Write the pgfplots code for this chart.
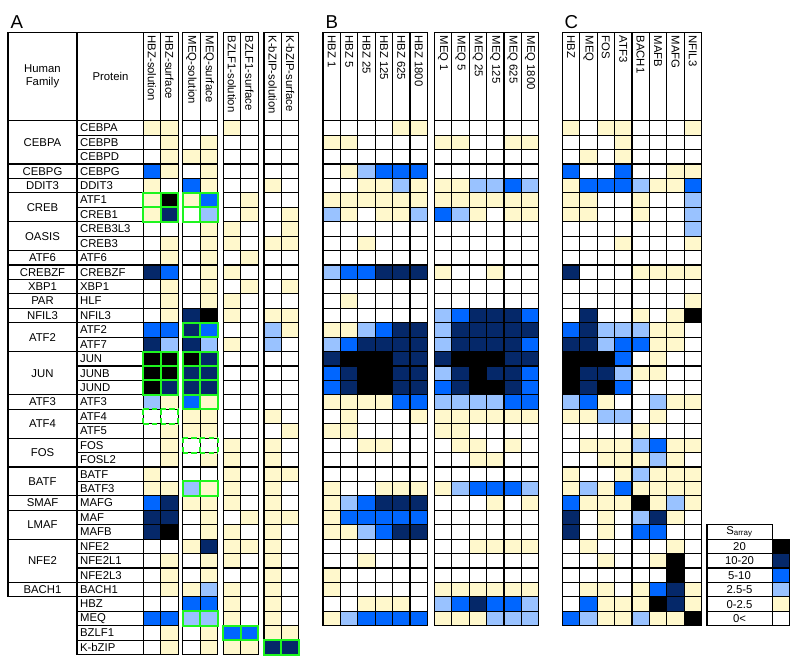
\documentclass[border=0pt]{standalone}
\usepackage{pgfplots}
\pgfplotsset{compat=1.18}
\usepackage{pgfplotstable}
\usepackage{fontspec}
\setmainfont{Liberation Sans}

\definecolor{c0}{RGB}{255,255,255}
\definecolor{c1}{RGB}{255,248,204}
\definecolor{c2}{RGB}{153,194,255}
\definecolor{c3}{RGB}{0,102,255}
\definecolor{c4}{RGB}{5,40,105}
\definecolor{c5}{RGB}{0,0,0}
\definecolor{grn}{RGB}{30,245,30}

% one cell = 17.4 x 14.43 px, 1 px = 0.75pt
\pgfdeclareplotmark{cell}{%
  \pgfpathrectangle{\pgfpoint{-6.525pt}{-5.41125pt}}{\pgfpoint{13.05pt}{10.8225pt}}%
  \pgfusepathqfillstroke}

\pgfplotsset{cellplot/.style={scatter, only marks, mark=cell,
  point meta=explicit symbolic,
  scatter/classes={
    0={draw=black,fill=c0,line width=0.9pt},
    1={draw=black,fill=c1,line width=0.9pt},
    2={draw=black,fill=c2,line width=0.9pt},
    3={draw=black,fill=c3,line width=0.9pt},
    4={draw=black,fill=c4,line width=0.9pt},
    5={draw=black,fill=c5,line width=0.9pt}}}}

% panel A: bZIP proteins x viral bZIP (solution / surface)
\pgfplotstableread{
HS HSf MS MSf BS BSf KS KSf
1 1 0 0 1 0 0 0
0 1 0 1 0 0 0 0
0 1 1 1 0 0 0 0
3 1 0 1 0 0 0 0
1 0 3 1 0 0 1 0
1 5 1 3 0 1 0 0
1 4 0 2 0 1 0 1
0 0 0 1 1 0 0 1
0 1 0 1 1 0 1 1
0 1 0 1 0 1 0 0
4 3 0 1 1 0 0 0
0 1 0 1 0 1 0 1
0 1 0 1 1 0 0 0
0 1 4 5 1 0 1 1
3 3 4 3 0 0 2 1
4 2 4 2 1 0 2 0
5 5 5 4 0 0 0 0
5 5 4 4 0 0 0 0
5 4 4 4 0 0 0 0
2 1 3 1 0 0 0 0
0 0 1 1 0 0 1 0
0 1 1 1 0 0 0 1
0 1 0 0 1 0 1 0
0 1 0 1 1 0 1 0
1 0 0 0 1 0 1 1
1 1 2 1 1 0 1 0
3 4 1 1 1 0 1 0
4 4 0 1 0 1 1 1
4 5 0 1 1 0 1 0
0 0 1 4 1 1 1 0
0 1 0 1 1 0 1 0
0 1 0 1 0 0 1 0
0 1 1 2 1 0 1 0
0 0 3 3 1 0 1 0
3 3 2 2 1 0 1 0
0 1 0 1 3 3 1 1
0 1 0 1 1 1 4 4
}\tabA

% panel B: HBZ and MEQ concentration series
\pgfplotstableread{
H1 H5 H25 H125 H625 H1800 M1 M5 M25 M125 M625 M1800
0 0 0 0 1 1 0 0 0 0 0 0
1 1 0 0 0 0 1 1 0 0 1 1
0 0 0 0 0 0 0 0 0 0 0 0
0 1 2 3 3 3 0 0 0 0 0 0
0 0 1 1 2 1 1 1 2 2 3 2
1 1 1 1 1 1 1 1 1 1 1 1
2 1 0 1 1 2 3 2 1 0 1 1
0 0 0 0 0 0 0 0 0 0 0 0
0 0 1 0 0 0 0 0 0 0 0 0
0 0 0 0 0 0 0 0 0 0 0 0
2 3 3 4 4 4 1 0 0 1 0 0
0 0 0 0 0 0 0 0 0 0 0 0
0 1 0 0 0 0 0 0 0 0 0 0
0 0 0 0 0 0 2 3 4 4 4 3
1 1 2 3 4 4 2 4 4 4 4 4
2 3 4 4 4 4 2 4 4 4 4 3
4 5 5 5 4 4 4 5 5 5 4 4
3 4 5 5 4 4 2 4 5 4 4 3
3 4 5 5 4 4 3 4 5 5 4 3
1 1 1 1 3 3 2 2 2 2 3 3
0 1 0 0 0 1 1 1 1 1 1 1
1 1 0 0 0 0 1 1 0 0 0 0
0 0 1 1 0 0 0 1 1 0 1 0
0 0 0 0 0 0 0 0 1 1 0 0
0 0 0 0 0 0 0 0 0 0 0 0
1 0 0 1 1 1 1 2 3 3 3 2
1 2 3 4 4 4 0 0 0 1 0 1
1 3 3 3 3 3 0 0 0 0 0 0
1 1 2 3 4 4 0 0 0 0 0 0
0 0 0 0 0 0 0 0 1 1 1 1
0 0 1 0 0 0 0 0 0 0 0 0
1 0 0 0 0 0 0 0 0 0 0 0
1 0 0 0 0 0 1 1 1 1 1 1
0 0 1 1 1 0 2 3 4 3 3 2
1 2 3 3 3 3 1 1 1 2 2 2
}\tabB

% panel C: human bZIP probes
\pgfplotstableread{
HBZ MEQ FOS ATF3 BACH1 MAFB MAFG NFIL3
1 0 1 1 0 0 0 1
0 0 0 1 0 0 0 0
0 1 0 1 0 0 0 0
3 0 0 3 0 0 1 1
1 3 3 3 2 1 1 3
1 1 0 0 1 0 0 2
1 1 0 0 1 0 0 2
0 0 0 0 0 0 0 2
0 0 0 1 0 0 0 1
0 0 0 0 0 0 0 0
4 0 0 0 1 1 1 1
0 0 0 0 0 0 0 0
0 0 0 0 0 0 0 1
0 4 0 0 1 0 1 5
3 4 2 2 2 1 1 0
4 4 2 3 3 1 1 0
5 5 5 3 0 1 0 0
5 4 4 2 1 1 0 0
5 4 5 3 0 0 0 0
2 3 1 0 0 2 1 1
1 1 2 2 0 1 0 0
0 0 0 0 1 0 0 0
0 1 1 1 2 3 1 1
0 0 1 1 1 2 1 0
1 0 0 1 2 1 1 1
1 2 1 3 1 1 1 1
3 1 1 1 5 1 2 1
4 0 1 0 2 4 1 0
4 0 1 0 3 3 0 0
0 1 0 0 0 0 1 0
0 0 1 0 0 1 5 0
0 0 0 0 0 0 5 0
0 1 1 0 1 3 4 1
0 3 1 1 1 5 4 1
3 2 1 1 2 1 1 5
}\tabC

% key: S_array classes
\pgfplotstableread{
r v
29 5
30 4
31 3
32 2
33 1
34 0
}\tabKey

\newcommand\col[3]{\addplot[cellplot] table[x expr=#1, y expr=127.915+14.43*\coordindex, meta=#2]{#3};}

\begin{document}
\begin{tikzpicture}
\begin{axis}[at={(0,0)}, anchor=south west,
  x=0.75pt, y=0.75pt, y dir=reverse, scale only axis,
  xmin=0, xmax=800, ymin=0, ymax=667, disabledatascaling,
  hide axis, clip=false]
% A
\col{152.0}{HS}{\tabA}
\col{169.4}{HSf}{\tabA}
\col{191.5}{MS}{\tabA}
\col{208.9}{MSf}{\tabA}
\col{232.0}{BS}{\tabA}
\col{249.4}{BSf}{\tabA}
\col{272.7}{KS}{\tabA}
\col{290.1}{KSf}{\tabA}
% B
\col{331.7}{H1}{\tabB}
\col{349.1}{H5}{\tabB}
\col{366.5}{H25}{\tabB}
\col{383.9}{H125}{\tabB}
\col{401.3}{H625}{\tabB}
\col{418.7}{H1800}{\tabB}
\col{443.0}{M1}{\tabB}
\col{460.4}{M5}{\tabB}
\col{477.8}{M25}{\tabB}
\col{495.2}{M125}{\tabB}
\col{512.6}{M625}{\tabB}
\col{530.0}{M1800}{\tabB}
% C
\col{571.0}{HBZ}{\tabC}
\col{588.4}{MEQ}{\tabC}
\col{605.8}{FOS}{\tabC}
\col{623.2}{ATF3}{\tabC}
\col{640.6}{BACH1}{\tabC}
\col{658.0}{MAFB}{\tabC}
\col{675.4}{MAFG}{\tabC}
\col{692.8}{NFIL3}{\tabC}
% key swatches
\addplot[cellplot] table[x expr=781, y expr=127.915+14.43*\thisrow{r}, meta=v]{\tabKey};
\end{axis}

\begin{scope}[x=0.75pt, y=-0.75pt, yshift=500.25pt, line width=0.9pt,
  every node/.style={inner sep=0pt, font=\fontsize{8.5}{10}\selectfont}]
\path (0,0) rectangle (800,667);
% panel letters
\node[anchor=base west, font=\fontsize{14}{16}\selectfont] at (10,28.5) {A};
\node[anchor=base west, font=\fontsize{14}{16}\selectfont] at (325,28.5) {B};
\node[anchor=base west, font=\fontsize{14}{16}\selectfont] at (564,28.5) {C};

% A: family / protein columns
\draw (8,32.3) rectangle (143.3,120.7);
\draw (77,32.3) -- (77,120.7);
\node[align=center] at (42.5,76.5) {Human\\Family};
\node at (110.5,76.5) {Protein};
\draw (77,120.7) -- (77,654.6);
\draw (8,120.7) -- (8,596.9);
\foreach \k in {0,...,37} \draw (77,{120.7+14.43*\k}) -- (143.3,{120.7+14.43*\k});
\foreach \k in {0,3,4,5,7,9,10,11,12,13,14,16,19,20,22,24,26,27,29,32,33}
  \draw (8,{120.7+14.43*\k}) -- (77,{120.7+14.43*\k});
\foreach \n [count=\k from 0] in {CEBPA,CEBPB,CEBPD,CEBPG,DDIT3,ATF1,CREB1,CREB3L3,CREB3,ATF6,CREBZF,XBP1,HLF,NFIL3,ATF2,ATF7,JUN,JUNB,JUND,ATF3,ATF4,ATF5,FOS,FOSL2,BATF,BATF3,MAFG,MAF,MAFB,NFE2,NFE2L1,NFE2L3,BACH1,HBZ,MEQ,BZLF1,K-bZIP}
  \node[anchor=west] at (79.5,{127.915+14.43*\k}) {\n};
\foreach \n/\r in {CEBPA/1,CEBPG/3,DDIT3/4,CREB/5.5,OASIS/7.5,ATF6/9,CREBZF/10,XBP1/11,PAR/12,NFIL3/13,ATF2/14.5,JUN/17,ATF3/19,ATF4/20.5,FOS/22.5,BATF/24.5,SMAF/26,LMAF/27.5,NFE2/30,BACH1/32}
  \node at (42.5,{127.915+14.43*\r}) {\n};

% A: column header boxes
\foreach \L in {143.3,182.8,223.3,264}{
  \draw (\L,32.3) rectangle ({\L+34.8},120.7);
  \draw ({\L+17.4},32.3) -- ({\L+17.4},120.7);}
\foreach \n [count=\i from 0] in {HBZ-solution,HBZ-surface}
  \node[rotate=-90, anchor=west] at ({152.0+17.4*\i},35) {\n};
\foreach \n [count=\i from 0] in {MEQ-solution,MEQ-surface}
  \node[rotate=-90, anchor=west] at ({191.5+17.4*\i},35) {\n};
\foreach \n [count=\i from 0] in {BZLF1-solution,BZLF1-surface}
  \node[rotate=-90, anchor=west] at ({232.0+17.4*\i},35) {\n};
\foreach \n [count=\i from 0] in {K-bZIP-solution,K-bZIP-surface}
  \node[rotate=-90, anchor=west] at ({272.7+17.4*\i},35) {\n};

% B: header boxes
\foreach \L in {323,434.3}{
  \draw (\L,32.3) rectangle ({\L+104.4},120.7);
  \foreach \i in {1,...,5} \draw ({\L+17.4*\i},32.3) -- ({\L+17.4*\i},120.7);}
\foreach \n [count=\i from 0] in {HBZ 1,HBZ 5,HBZ 25,HBZ 125,HBZ 625,HBZ 1800}
  \node[rotate=-90, anchor=west] at ({331.7+17.4*\i},35) {\n};
\foreach \n [count=\i from 0] in {MEQ 1,MEQ 5,MEQ 25,MEQ 125,MEQ 625,MEQ 1800}
  \node[rotate=-90, anchor=west] at ({443.0+17.4*\i},35) {\n};

% C: header box
\draw (562.3,32.3) rectangle (701.5,120.7);
\foreach \i in {1,...,7} \draw ({562.3+17.4*\i},32.3) -- ({562.3+17.4*\i},120.7);
\foreach \n [count=\i from 0] in {HBZ,MEQ,FOS,ATF3,BACH1,MAFB,MAFG,NFIL3}
  \node[rotate=-90, anchor=west] at ({571.0+17.4*\i},35) {\n};

% key
\draw (707,524.8) rectangle (772.3,625.8);
\foreach \k in {29,...,34} \draw (707,{120.7+14.43*\k}) -- (772.3,{120.7+14.43*\k});
\node at (739.5,{127.915+14.43*28}) {S\textsubscript{array}};
\foreach \n [count=\i from 29] in {20,10-20,5-10,2.5-5,0-2.5,0<}
  \node at (739.5,{127.915+14.43*\i}) {\n};

% green outlines
\tikzset{gbox/.style={draw=grn, line width=1.5pt}}
\foreach \k in {5,6,16,17,18} \foreach \c in {0,1}
  \draw[gbox] ({143.3+17.4*\c},{120.7+14.43*\k}) rectangle +(17.4,14.43);
\foreach \k in {5,6,14,16,17,18,19,25,34} \foreach \c in {0,1}
  \draw[gbox] ({182.8+17.4*\c},{120.7+14.43*\k}) rectangle +(17.4,14.43);
\foreach \c in {0,1} {
  \draw[gbox] ({223.3+17.4*\c},{120.7+14.43*35}) rectangle +(17.4,14.43);
  \draw[gbox] ({264+17.4*\c},{120.7+14.43*36}) rectangle +(17.4,14.43);}
% dashed outlines
\foreach \y in {20,21}
  \draw[gbox, dash pattern=on 4pt off 2.5pt] (143.3,{120.7+14.43*\y}) -- (178.1,{120.7+14.43*\y});
\foreach \x in {143.3,160.7,178.1}
  \draw[gbox, dash pattern=on 4pt off 2.5pt] (\x,{120.7+14.43*20}) -- (\x,{120.7+14.43*21});
\foreach \y in {22,23}
  \draw[gbox, dash pattern=on 4pt off 2.5pt] (182.8,{120.7+14.43*\y}) -- (217.6,{120.7+14.43*\y});
\foreach \x in {182.8,200.2,217.6}
  \draw[gbox, dash pattern=on 4pt off 2.5pt] (\x,{120.7+14.43*22}) -- (\x,{120.7+14.43*23});
\end{scope}
\end{tikzpicture}
\end{document}
